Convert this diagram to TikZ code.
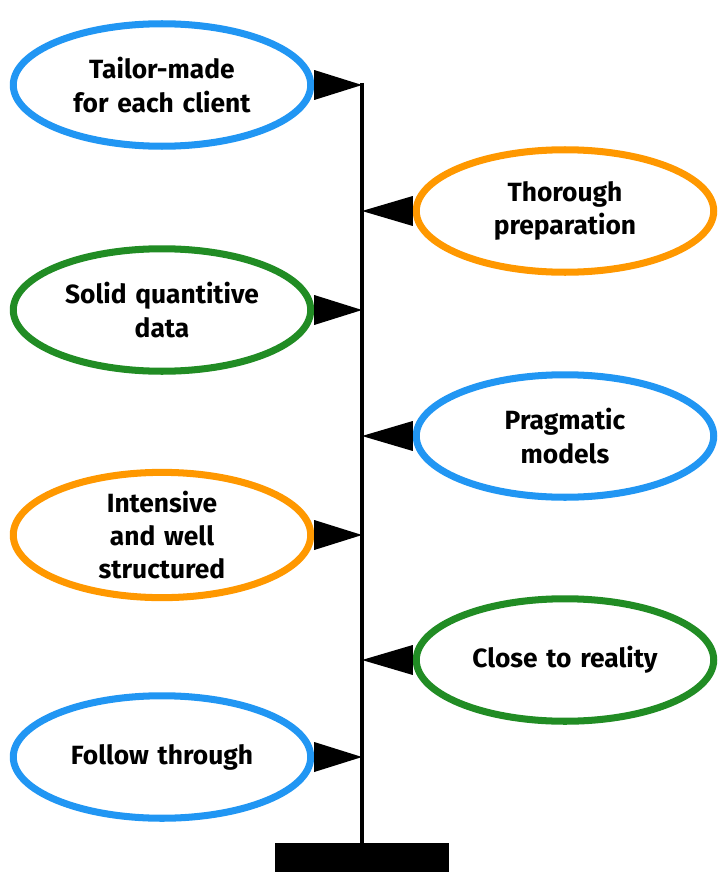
\documentclass[tikz,border=0pt]{standalone}
\usepackage{fontspec}
\setmainfont{Fira Sans}
\usetikzlibrary{shapes.geometric, arrows.meta, positioning}
\definecolor{oBlue}{RGB}{33, 150, 243}
\definecolor{oOrange}{RGB}{255, 152, 0}
\definecolor{oGreen}{RGB}{33, 140, 36}

\begin{document}
\begin{tikzpicture}[
    x=0.02cm, y=-0.02cm,
    bubble/.style={
        ellipse,
        draw=#1,
        line width=4pt,
        inner sep=0pt,
        text width=4cm,
        minimum width=5.95cm,
        minimum height=2.45cm,
        align=center,
        font=\fontsize{15}{19}\selectfont\bfseries
    }
]
    \useasboundingbox (0,0) rectangle (724,882);

    % pole and base
    \coordinate (top) at (362,83);
    \coordinate (bottom) at (362,845);
    \draw[line width=2.8pt] (top) -- (bottom);
    \node[fill=black, minimum width=3.5cm, minimum height=0.58cm, inner sep=0] (base) at (362,857) {};

    % left side
    \node[bubble=oBlue] (tailor) at (162,85) {Tailor-made\\for each client};
    \node[bubble=oGreen] (solid) at (162,310) {Solid quantitive\\data};
    \node[bubble=oOrange] (intensive) at (162,535) {Intensive and well\\structured};
    \node[bubble=oBlue] (follow) at (162,757) {Follow through};

    % right side
    \node[bubble=oOrange] (thorough) at (565,211) {Thorough\\preparation};
    \node[bubble=oBlue] (pragmatic) at (565,436) {Pragmatic models};
    \node[bubble=oGreen] (close) at (565,660) {Close to reality};

    % flags
    \foreach \n/\y in {tailor/85, solid/310, intensive/535, follow/757}
        \fill ([yshift=0.3cm]\n.east) -- ([yshift=-0.3cm]\n.east) -- (362,\y) -- cycle;
    \foreach \n/\y in {thorough/211, pragmatic/436, close/660}
        \fill ([yshift=0.3cm]\n.west) -- ([yshift=-0.3cm]\n.west) -- (362,\y) -- cycle;

\end{tikzpicture}
\end{document}
